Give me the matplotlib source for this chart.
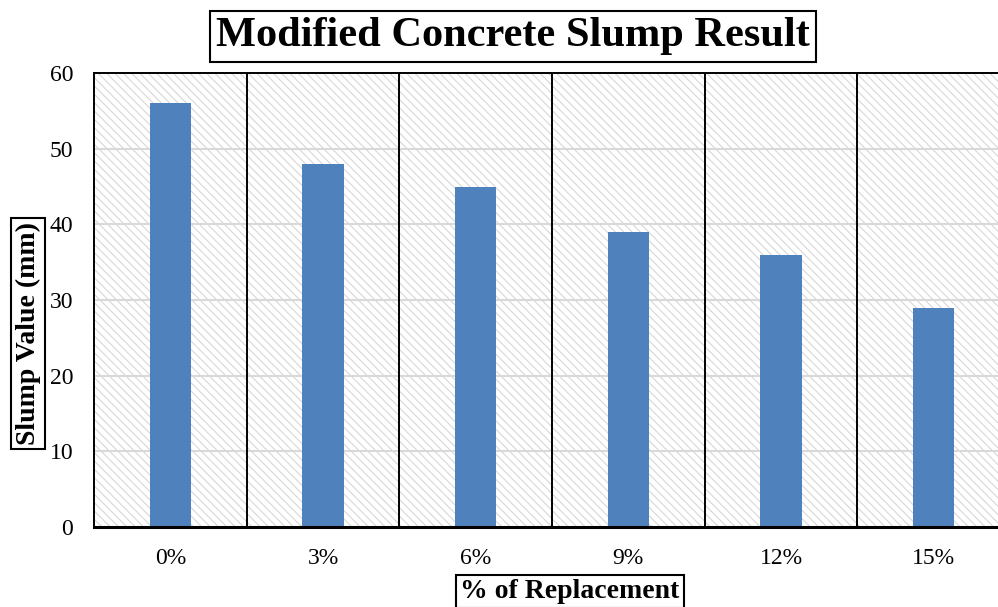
import matplotlib.pyplot as plt
from matplotlib.patches import Rectangle

categories = ['0%', '3%', '6%', '9%', '12%', '15%']
slump = [56, 48, 45, 39, 36, 29]
y_ticks = [0, 10, 20, 30, 40, 50, 60]

plt.rcParams['font.family'] = ['Liberation Serif', 'DejaVu Serif']
plt.rcParams['hatch.linewidth'] = 0.7
plt.rcParams['hatch.color'] = '#d2d2d2'

fig = plt.figure(figsize=(9.98, 6.07), dpi=100)
ax = fig.add_axes([0.0942, 0.1318, 1.012 - 0.0942, 0.8797 - 0.1318])

# hatched plot background
bg = Rectangle((0, 0), 1, 1, transform=ax.transAxes, facecolor='white',
               edgecolor='#d2d2d2', hatch='\\\\\\\\', linewidth=0, zorder=0)
ax.add_patch(bg)

x = range(len(categories))
ax.bar(x, slump, width=0.27, color='#4f81bd', zorder=3)

ax.set_xlim(-0.5, len(categories) - 0.5)
ax.set_ylim(0, 60)
ax.set_yticks(y_ticks)
ax.set_xticks(list(x))
ax.set_xticklabels(categories)
ax.tick_params(axis='both', length=0, labelsize=17)
ax.tick_params(axis='x', pad=15)
ax.tick_params(axis='y', pad=15)

# grid and category dividers
for v in y_ticks[1:-1]:
    ax.axhline(v, color='#d9d9d9', linewidth=1.5, zorder=1)
for i in range(1, len(categories)):
    ax.axvline(i - 0.5, color='black', linewidth=1.4, zorder=2)

for s in ['top', 'left', 'right']:
    ax.spines[s].set_linewidth(1.4)
ax.spines['bottom'].set_linewidth(2.2)
for s in ax.spines.values():
    s.set_zorder(4)

# boxed title and axis labels
box = dict(boxstyle='square,pad=0.15', facecolor='white', edgecolor='black', linewidth=1.5)
fig.text(0.514, 0.94, 'Modified Concrete Slump Result', fontsize=30.5, fontweight='bold',
         ha='center', va='center', bbox=box)
fig.text(0.028, 0.451, 'Slump Value (mm)', fontsize=20, fontweight='bold', rotation=90,
         ha='center', va='center', bbox=box)
fig.text(0.571, 0.026, '% of Replacement', fontsize=20, fontweight='bold',
         ha='center', va='center', bbox=box)

fig.savefig('out.png', dpi=100)
